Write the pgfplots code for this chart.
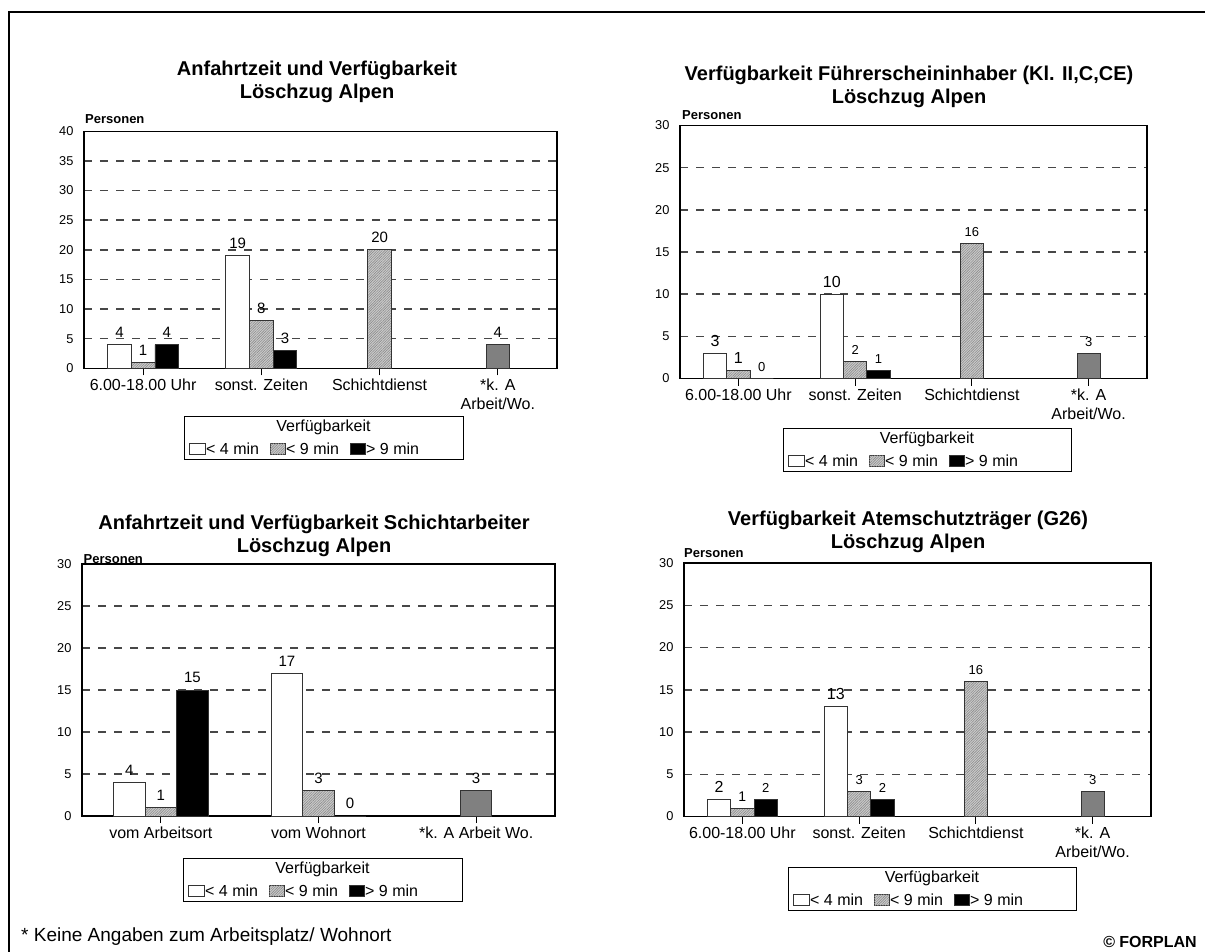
\documentclass[border=0pt]{standalone}
\usepackage{fontspec}
\setmainfont{Liberation Sans}
\usepackage{pgfplots}
\pgfplotsset{compat=1.18}
\usetikzlibrary{patterns.meta}

\newcommand{\fsz}[1]{\fontsize{#1}{#1}\selectfont}

\colorlet{barline}{black!80}
\colorlet{gridline}{black!72}
\colorlet{hatchbg}{black!20}
\colorlet{hatchfg}{black!45}
\colorlet{darkbar}{black!50}

\tikzset{
  hatch/.style={fill=hatchbg,
    postaction={pattern={Lines[angle=45,distance=1.8pt,line width=0.6pt]},
                pattern color=hatchfg}},
}

\pgfplotsset{
  /pgf/number format/assume math mode=true,
  panel/.style={
    scale only axis, anchor=south west,
    xmin=-0.5, ymin=0, ytick distance=5,
    axis line style={black, line width=1.1pt},
    ymajorgrids,
    major grid style={gridline, line width=1.5pt, dash pattern=on 8pt off 8pt},
    tick align=outside, major tick length=7pt,
    xtick pos=bottom,
    xtick style={black, line width=1pt},
    ytick style={draw=none},
    yticklabel style={font=\fsz{12.8}},
    xticklabel style={font=\fontsize{16}{19}\selectfont, align=center},
    clip=false,
  },
  % bars sit at the x value given by the table options (group offset via x expr)
  barbase/.style={ybar, bar width=0.2, bar shift=0, draw=barline, line width=0.9pt,
    point meta=y,
    visualization depends on={\thisrow{f}\as\lsz},
    nodes near coords={\fsz{\lsz}\pgfmathprintnumber{\pgfplotspointmeta}},
    every node near coord/.append style={black, inner sep=0pt, yshift=6.5pt}},
  wbar/.style={barbase, fill=white},
  gbar/.style={barbase, hatch},
  kbar/.style={barbase, fill=black},
  dbar/.style={barbase, fill=darkbar},
}

% two-line bold chart title, baselines given
\newcommand{\charttitle}[4]{%
  \node[anchor=base, font=\fsz{20}\bfseries] at (#1,#2) {#3};
  \node[anchor=base, font=\fsz{20}\bfseries] at (#1,#2+23) {#4};}

% unit label above the value axis
\newcommand{\unitlabel}[2]{%
  \node[anchor=base west, inner sep=0pt, font=\fsz{13}\bfseries] at (#1,#2) {Personen};}

% legend box: left, top, width
\newcommand{\legendbox}[3]{%
  \begin{scope}[shift={(#1,#2)}]
    \draw[black, line width=1pt] (0,0) rectangle (#3,43.5);
    \node[font=\fsz{16}] at (#3/2,11) {Verfügbarkeit};
    \draw[barline, line width=0.8pt, fill=white] (5,27) rectangle (21,38);
    \node[anchor=west, inner sep=0pt, font=\fsz{16}] at (22,32.5) {< 4 min};
    \draw[barline, line width=0.8pt, hatch] (86,27) rectangle (101,38);
    \node[anchor=west, inner sep=0pt, font=\fsz{16}] at (102,32.5) {< 9 min};
    \draw[barline, line width=0.8pt, fill=black] (166,27) rectangle (181,38);
    \node[anchor=west, inner sep=0pt, font=\fsz{16}] at (182,32.5) {> 9 min};
  \end{scope}}

\begin{document}
\begin{tikzpicture}
\useasboundingbox (0pt,0pt) rectangle (1205pt,-951pt);

% --- top left ---
\begin{axis}[panel, at={(84pt,-368.3pt)}, width=473pt, height=237pt,
  xmax=3.5, ymax=40, xtick={0,1,2,3},
  xticklabels={6.00-18.00 Uhr, sonst. Zeiten, Schichtdienst, {*k. A\\Arbeit/Wo.}}]
\addplot[wbar] table[row sep=\\, x expr=\thisrow{x}-0.2] {x y f\\ 0 4 15\\ 1 19 15\\};
\addplot[gbar] table[row sep=\\] {x y f\\ 0 1 15\\ 1 8 15\\ 2 20 15\\};
\addplot[kbar] table[row sep=\\, x expr=\thisrow{x}+0.2] {x y f\\ 0 4 15\\ 1 3 15\\};
\addplot[dbar] table[row sep=\\] {x y f\\ 3 4 15\\};
\end{axis}

% --- top right ---
\begin{axis}[panel, at={(680pt,-378.5pt)}, width=467pt, height=253pt,
  xmax=3.5, ymax=30, xtick={0,1,2,3},
  xticklabels={6.00-18.00 Uhr, sonst. Zeiten, Schichtdienst, {*k. A\\Arbeit/Wo.}}]
\addplot[wbar] table[row sep=\\, x expr=\thisrow{x}-0.2] {x y f\\ 0 3 16\\ 1 10 16\\};
\addplot[gbar] table[row sep=\\] {x y f\\ 0 1 16\\ 1 2 13\\ 2 16 13\\};
\addplot[kbar] table[row sep=\\, x expr=\thisrow{x}+0.2] {x y f\\ 0 0 13\\ 1 1 13\\};
\addplot[dbar] table[row sep=\\] {x y f\\ 3 3 13\\};
\end{axis}

% --- bottom left ---
\begin{axis}[panel, at={(82pt,-816pt)}, width=473pt, height=252pt,
  xmax=2.5, ymax=30, xtick={0,1,2},
  xticklabels={vom Arbeitsort, vom Wohnort, *k. A Arbeit Wo.}]
\addplot[wbar] table[row sep=\\, x expr=\thisrow{x}-0.2] {x y f\\ 0 4 15\\ 1 17 15\\};
\addplot[gbar] table[row sep=\\] {x y f\\ 0 1 15\\ 1 3 15\\};
\addplot[kbar] table[row sep=\\, x expr=\thisrow{x}+0.2] {x y f\\ 0 15 15\\ 1 0 15\\};
\addplot[dbar] table[row sep=\\] {x y f\\ 2 3 15\\};
\end{axis}

% --- bottom right ---
\begin{axis}[panel, at={(684pt,-816.5pt)}, width=467pt, height=253.5pt,
  xmax=3.5, ymax=30, xtick={0,1,2,3},
  xticklabels={6.00-18.00 Uhr, sonst. Zeiten, Schichtdienst, {*k. A\\Arbeit/Wo.}}]
\addplot[wbar] table[row sep=\\, x expr=\thisrow{x}-0.2] {x y f\\ 0 2 16\\ 1 13 16\\};
\addplot[gbar] table[row sep=\\] {x y f\\ 0 1 14\\ 1 3 13\\ 2 16 13\\};
\addplot[kbar] table[row sep=\\, x expr=\thisrow{x}+0.2] {x y f\\ 0 2 13\\ 1 2 13\\};
\addplot[dbar] table[row sep=\\] {x y f\\ 3 3 13\\};
\end{axis}

\begin{scope}[x=1pt, y=-1pt]
  % page frame
  \draw[black, line width=2pt] (8.5,980) -- (8.5,11.5) -- (1230,11.5);

  \charttitle{317}{75}{Anfahrtzeit und Verfügbarkeit}{Löschzug Alpen}
  \charttitle{909}{80}{Verfügbarkeit Führerscheininhaber (Kl. II,C,CE)}{Löschzug Alpen}
  \charttitle{314}{529}{Anfahrtzeit und Verfügbarkeit Schichtarbeiter}{Löschzug Alpen}
  \charttitle{908}{525}{Verfügbarkeit Atemschutzträger (G26)}{Löschzug Alpen}

  \unitlabel{85}{123.5}
  \unitlabel{682}{119.5}
  \unitlabel{83.5}{563.5}
  \unitlabel{684}{557.5}

  \legendbox{184}{416}{279}
  \legendbox{783}{428}{288}
  \legendbox{183}{858}{279}
  \legendbox{788}{867}{288}

  \node[anchor=base west, inner sep=0pt, font=\fsz{19}] at (21,941.5)
    {* Keine Angaben zum Arbeitsplatz/ Wohnort};
  \node[anchor=base east, inner sep=0pt, font=\fsz{16}\bfseries] at (1197,947.5)
    {© FORPLAN};
\end{scope}
\end{tikzpicture}
\end{document}
